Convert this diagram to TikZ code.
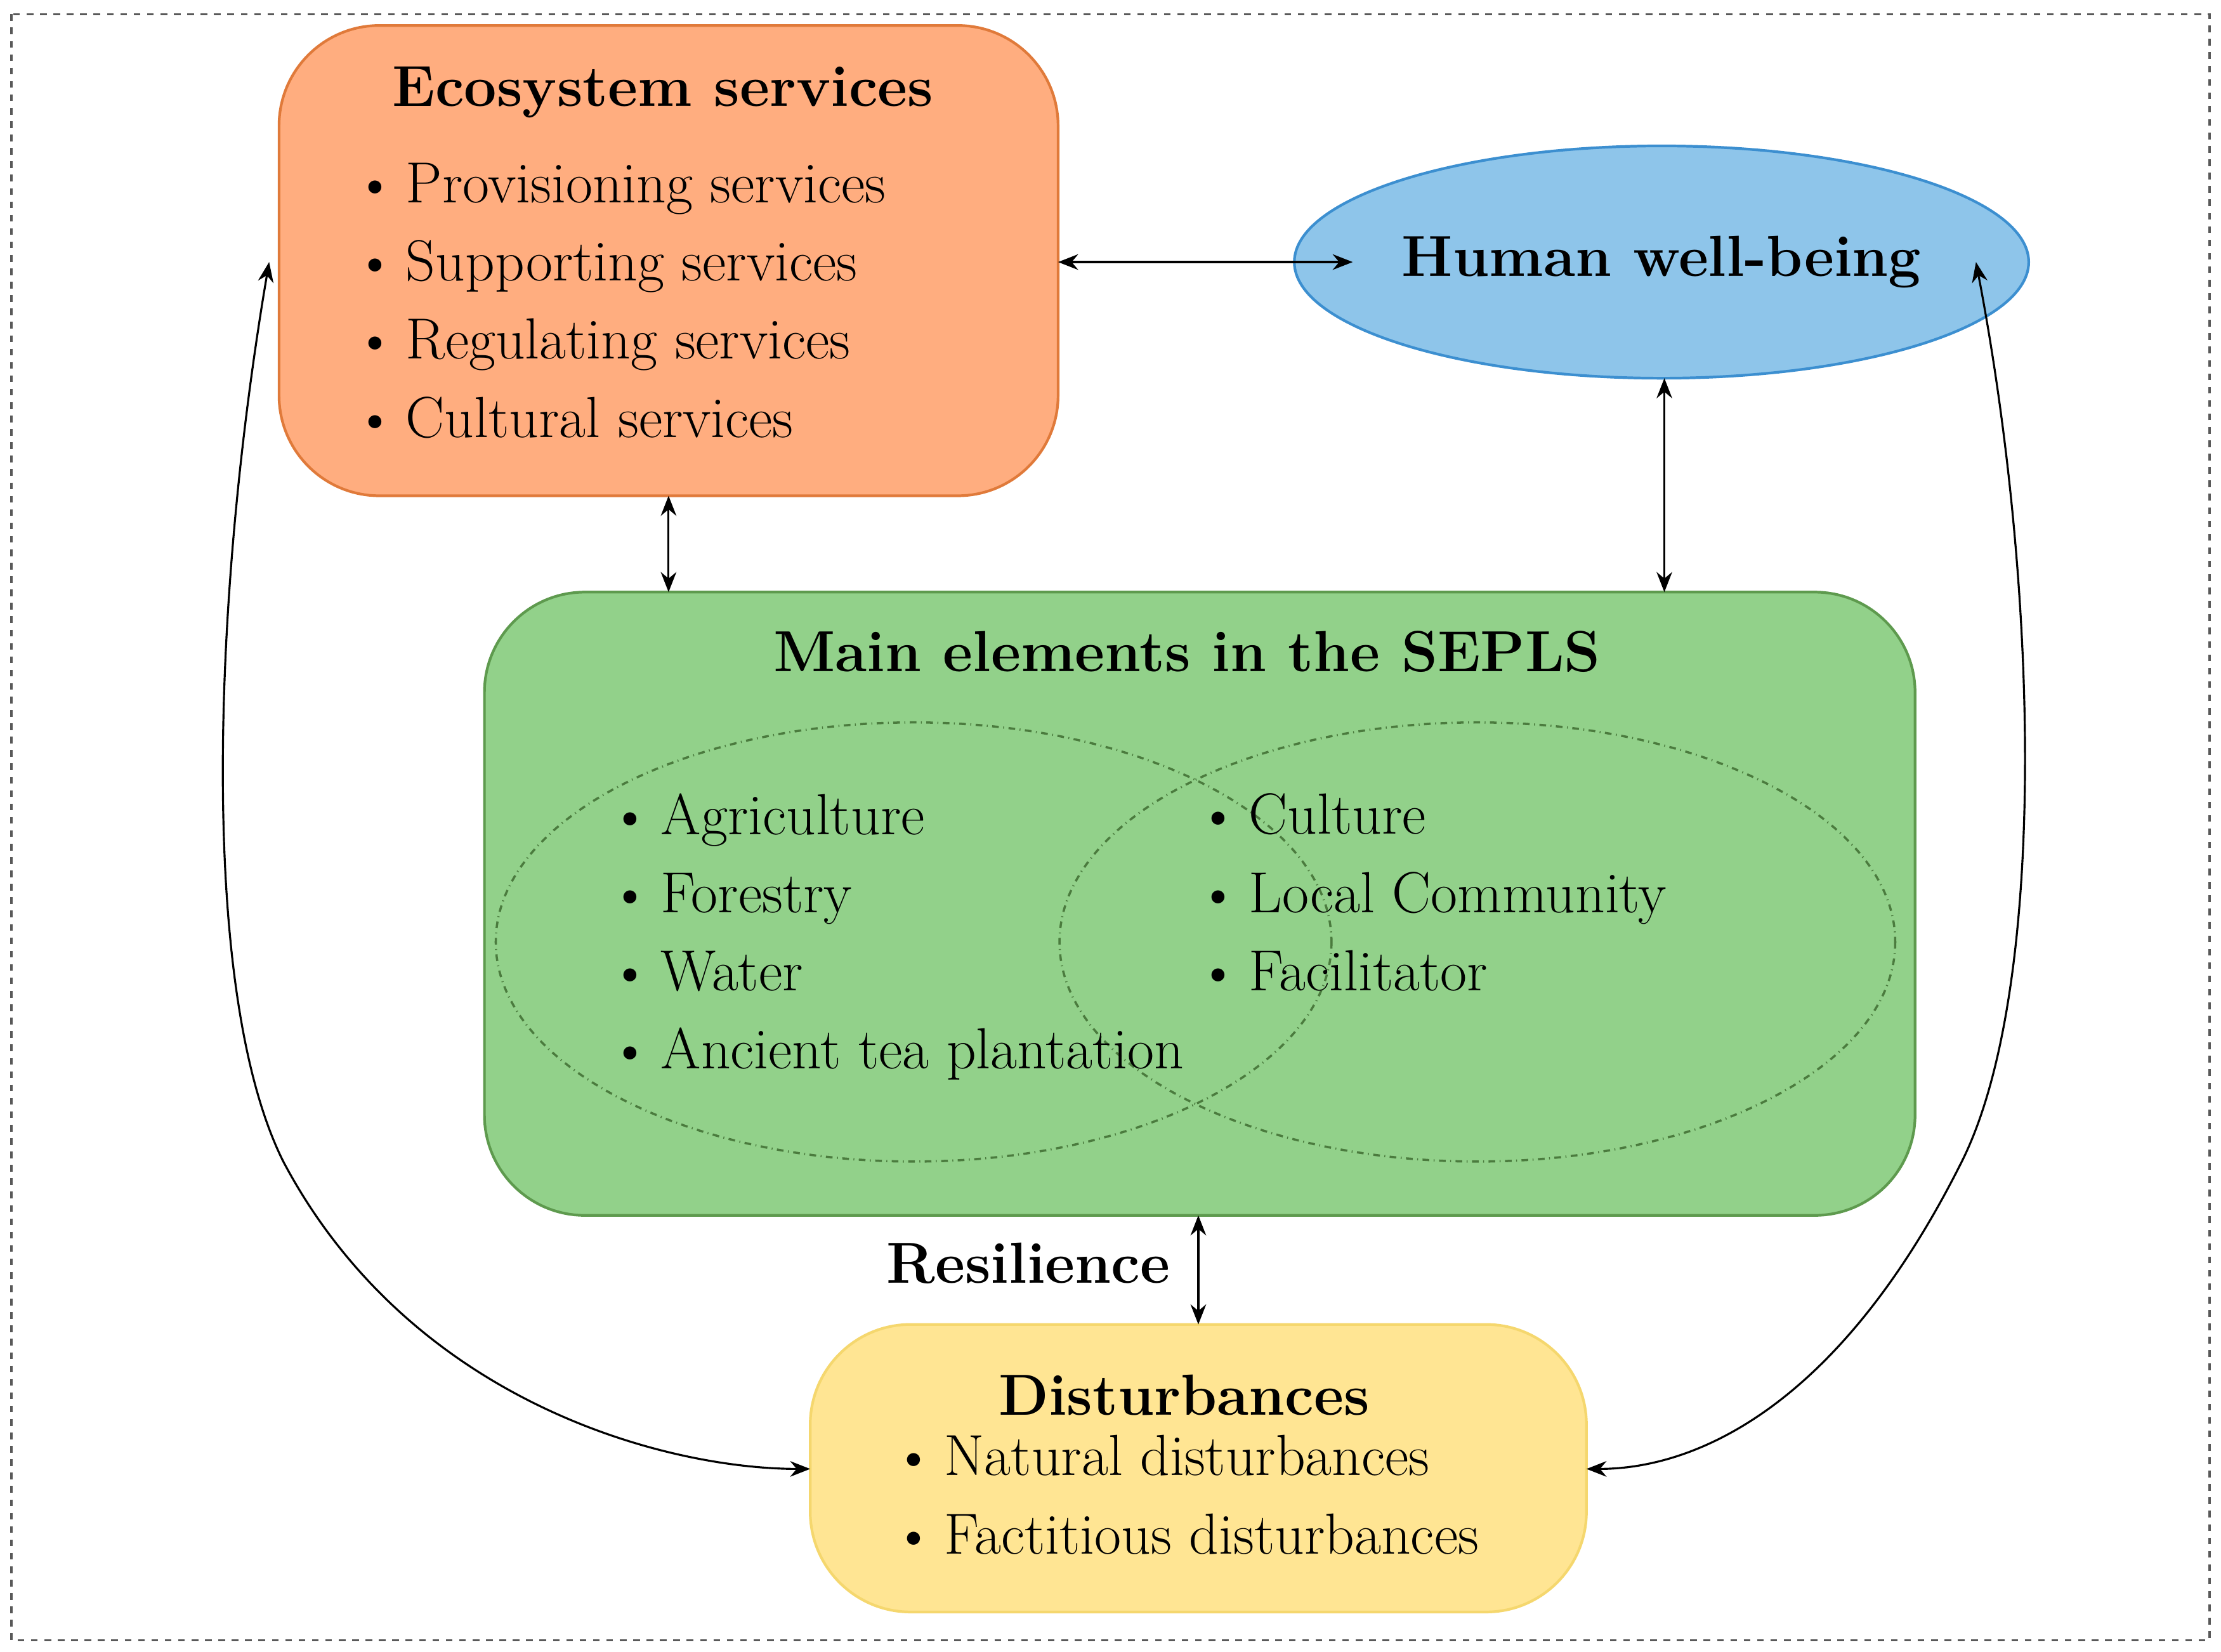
\documentclass[tikz,border=0pt]{standalone}
\usetikzlibrary{arrows.meta,shapes.geometric}
\definecolor{ecofill}{HTML}{FFAD7F}\definecolor{ecodraw}{HTML}{E07A3A}
\definecolor{hwbfill}{HTML}{8EC5EA}\definecolor{hwbdraw}{HTML}{3C8FD0}
\definecolor{grfill}{HTML}{92D18A}\definecolor{grdraw}{HTML}{5E9A4E}
\definecolor{dsfill}{HTML}{FFE593}\definecolor{dsdraw}{HTML}{F5D76E}
\tikzset{
 box/.style={rounded corners=45, line width=1.2pt},
 ttl/.style={font=\fontsize{26}{32}\selectfont\bfseries, inner sep=0pt},
 lst/.style={font=\fontsize{26}{35}\selectfont, align=left, anchor=north west, inner sep=0pt},
 conn/.style={{Stealth[length=9pt,width=7pt]}-{Stealth[length=9pt,width=7pt]}, line width=0.9pt}
}
\newcommand{\bl}{\textbullet\,}
\begin{document}
\begin{tikzpicture}[x=0.02233cm,y=-0.02233cm]
\useasboundingbox (0,0) rectangle (1568,1166);
\draw[dashed, line width=1pt, gray!70!black] (8,10) rectangle (1560,1158);
% Ecosystem
\draw[box, fill=ecofill, draw=ecodraw] (197,18) rectangle (747,350);
\node (eco) at (472,184) {};
\node[ttl] (ecot) at (468,65) {Ecosystem services};
\node[lst] (ecol) at (250,115) {\bl Provisioning services\\\bl Supporting services\\\bl Regulating services\\\bl Cultural services};
% HWB
\node[ellipse, minimum width=436\pgflinewidth*0+436*0.02233cm, minimum height=164*0.02233cm, fill=hwbfill, draw=hwbdraw, line width=1.2pt, font=\fontsize{26}{32}\selectfont\bfseries, inner sep=0pt] (hwb) at (1173,185) {Human well-being};
% Green
\draw[box, fill=grfill, draw=grdraw] (342,418) rectangle (1352,858);
\node[ttl] (grt) at (838,460) {Main elements in the SEPLS};
\draw[dash dot, grdraw!80!black, line width=1pt] (645,665) ellipse [x radius=295, y radius=155];
\draw[dash dot, grdraw!80!black, line width=1pt] (1043,665) ellipse [x radius=295, y radius=155];
\node[lst] (gl) at (430,560) {\bl Agriculture\\\bl Forestry\\\bl Water\\\bl Ancient tea plantation};
\node[lst] (gr) at (845,560) {\bl Culture\\\bl Local Community\\\bl Facilitator};
% Disturbances
\draw[box, fill=dsfill, draw=dsdraw] (572,935) rectangle (1120,1138);
\node[ttl] (dst) at (836,985) {Disturbances};
\node[lst] (dsl) at (630,1013) {\bl Natural disturbances\\\bl Factitious disturbances};
\node[ttl] (res) at (726,892) {Resilience};
% coordinates
\coordinate (ecoR) at (747,185); \coordinate (hwbL) at (955,185);
\coordinate (ecoB) at (472,350); \coordinate (grTL) at (472,418);
\coordinate (hwbB) at (1175,267); \coordinate (grTR) at (1175,418);
\coordinate (grB) at (846,858); \coordinate (dsT) at (846,935);
\coordinate (ecoL) at (190,185); \coordinate (dsL) at (572,1037);
\coordinate (hwbR) at (1395,185); \coordinate (dsR) at (1120,1037);
\draw[conn] (ecoR) -- (hwbL);
\draw[conn] (ecoB) -- (grTL);
\draw[conn] (hwbB) -- (grTR);
\draw[conn] (grB) -- (dsT);
\draw[conn] (ecoL) .. controls (150,420) and (140,700) .. (200,820) .. controls (290,990) and (470,1037) .. (dsL);
\draw[conn] (hwbR) .. controls (1440,420) and (1445,700) .. (1385,820) .. controls (1300,990) and (1200,1037) .. (dsR);
\end{tikzpicture}
\end{document}
